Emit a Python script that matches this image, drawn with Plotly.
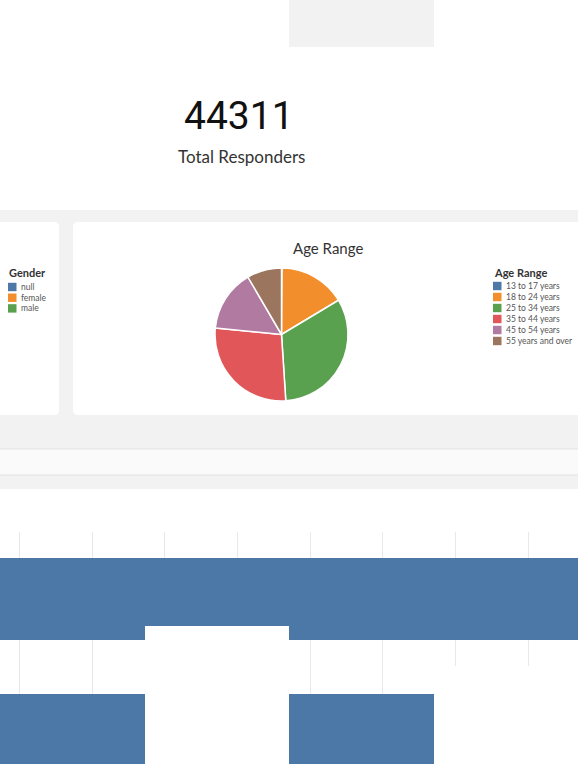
import plotly.graph_objects as go

W, H = 578, 764

# headline number
total_responders = 44311

# age range pie
age_labels = ['13 to 17 years', '18 to 24 years', '25 to 34 years',
              '35 to 44 years', '45 to 54 years', '55 years and over']
age_counts = [60, 7200, 14440, 12230, 6650, 3731]
age_colors = ['#4e79a7', '#f28e2b', '#59a14f', '#e15759', '#b07aa1', '#9c755f']

# gender legend (its pie is out of view)
gender_labels = ['null', 'female', 'male']
gender_colors = ['#4e79a7', '#f28e2b', '#59a14f']

# bottom bars: 4 columns, two bands hanging from the top of the axis
bar_cols = [1, 2, 3, 4]
band1_start = [2.6, 2.6, 2.6, 2.6]
band1_len = [8.2, 6.8, 8.2, 8.2]
band2_start = [16.2, None, 16.2, None]
band2_len = [8.0, None, 8.0, None]
bar_color = '#4c78a8'


def px(x):
    return x / W


def py(y):
    return 1 - y / H


def rect(x0, y0, x1, y1, fill, layer='below', line=None):
    return dict(type='rect', xref='paper', yref='paper',
                x0=px(x0), x1=px(x1), y0=py(y1), y1=py(y0),
                fillcolor=fill, layer=layer,
                line=line or dict(width=0))


def rounded(x0, y0, x1, y1, r, fill):
    a, b = px(x0), px(x1)
    t, u = py(y0), py(y1)
    rx, ry = r / W, r / H
    path = (f'M{a + rx},{t} L{b - rx},{t} Q{b},{t} {b},{t - ry} '
            f'L{b},{u + ry} Q{b},{u} {b - rx},{u} L{a + rx},{u} '
            f'Q{a},{u} {a},{u + ry} L{a},{t - ry} Q{a},{t} {a + rx},{t} Z')
    return dict(type='path', xref='paper', yref='paper', path=path,
                fillcolor=fill, line=dict(width=0), layer='below')


def label(text, x, y, size, family='Lato', color='#333333', xanchor='center'):
    return dict(text=text, x=px(x), y=py(y), xref='paper', yref='paper',
                xanchor=xanchor, yanchor='middle', showarrow=False,
                font=dict(family=family, size=size, color=color))


fig = go.Figure()

fig.add_trace(go.Pie(
    labels=age_labels, values=age_counts,
    marker=dict(colors=age_colors, line=dict(color='white', width=1.5)),
    sort=False, direction='clockwise', rotation=0,
    textinfo='none', showlegend=False,
    domain=dict(x=[px(215), px(348)], y=[py(401), py(268)]),
))

fig.add_trace(go.Bar(
    x=bar_cols, y=band1_len, base=band1_start, width=1,
    marker=dict(color=bar_color, line=dict(width=0)), showlegend=False,
))
fig.add_trace(go.Bar(
    x=bar_cols, y=band2_len, base=band2_start, width=1,
    marker=dict(color=bar_color, line=dict(width=0)), showlegend=False,
))

shapes = [
    rect(289, -5, 434, 47, '#f2f2f2'),
    rect(-10, 210, W + 10, 489, '#f2f2f2'),
    rounded(-20, 222, 59, 415, 5, 'white'),
    rounded(73, 222, W + 20, 415, 5, 'white'),
    rect(-10, 449, W + 10, 475, '#fafafa', line=dict(color='#e3e3e3', width=1)),
    # empty facet areas carry no grid
    rect(145, 626, 289, H + 5, 'white', layer='above'),
    rect(434, 666, W + 5, H + 5, 'white', layer='above'),
]

annotations = [
    label(str(total_responders), 239, 116, 39, family='Roboto', color='#111111'),
    label('Total Responders', 241, 157, 17),
    label('Age Range', 328, 248, 15),
]


def add_legend(title, labels, colors, x0, y_title, y_first, step):
    annotations.append(label(f'<b>{title}</b>', x0 - 1, y_title, 11, xanchor='left'))
    for i, (lab, col) in enumerate(zip(labels, colors)):
        yc = y_first + step * i
        shapes.append(rect(x0, yc - 4.2, x0 + 8.5, yc + 4.2, col, layer='above'))
        annotations.append(label(lab, x0 + 11, yc, 8.5, color='#555555', xanchor='left'))


add_legend('Gender', gender_labels, gender_colors, 8, 272.5, 287, 10.7)
add_legend('Age Range', age_labels, age_colors, 493, 272.5, 286, 11)

fig.update_layout(
    width=W, height=H,
    margin=dict(l=0, r=0, t=0, b=0),
    paper_bgcolor='white', plot_bgcolor='rgba(0,0,0,0)',
    barmode='overlay', bargap=0,
    shapes=shapes, annotations=annotations,
    xaxis=dict(domain=[0, 1], range=[0.5, 4.5], showticklabels=False,
               showgrid=True, gridcolor='#e8e8e8', gridwidth=1,
               tick0=0.635, dtick=0.503, zeroline=False, showline=False, ticks=''),
    yaxis=dict(domain=[0, py(532)], range=[23.2, 0], showticklabels=False,
               showgrid=False, zeroline=False, showline=False, ticks=''),
)

fig.write_html('out.html', config={'displayModeBar': False},
               post_script="document.body.style.margin='0px';")
